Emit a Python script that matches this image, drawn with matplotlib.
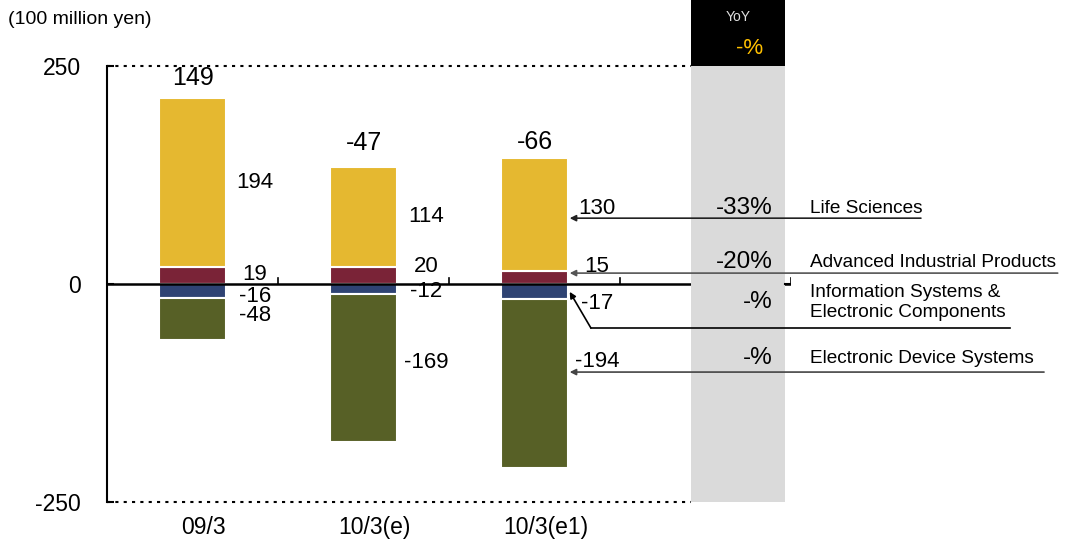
import matplotlib
matplotlib.use("Agg")
import matplotlib.pyplot as plt
from matplotlib.patches import Rectangle

plt.rcParams["font.family"] = ["Liberation Sans", "DejaVu Sans"]

# data (100 million yen)
periods = ["09/3", "10/3(e)", "10/3(e1)"]
segments = ["Life Sciences", "Advanced Industrial Products",
            "Information Systems &\nElectronic Components", "Electronic Device Systems"]
life_sciences = [194, 114, 130]
advanced_industrial = [19, 20, 15]
info_systems = [-16, -12, -17]
electronic_devices = [-48, -169, -194]
totals = [149, -47, -66]
yoy = ["-33%", "-20%", "-%", "-%"]
yoy_total = "-%"

c_ls = "#e5b830"
c_aip = "#7a2337"
c_isc = "#2f4373"
c_eds = "#576026"

fig = plt.figure(figsize=(10.67, 5.46), dpi=100)
ax = fig.add_axes([0.1003, 0.0806, 0.641, 0.7985])
ax.set_xlim(-0.5, 3.5)
ax.set_ylim(-250, 250)

x = range(len(periods))
w = 0.392
ax.bar(x, advanced_industrial, w, color=c_aip, edgecolor="white", linewidth=1.5, zorder=3)
ax.bar(x, life_sciences, w, bottom=advanced_industrial, color=c_ls, edgecolor="white", linewidth=1.5, zorder=3)
ax.bar(x, info_systems, w, color=c_isc, edgecolor="white", linewidth=1.5, zorder=3)
ax.bar(x, electronic_devices, w, bottom=info_systems, color=c_eds, edgecolor="white", linewidth=1.5, zorder=3)

# YoY column
gx0, gx1 = 2.915, 3.465
ax.add_patch(Rectangle((gx0, -250), gx1 - gx0, 500, color="#dadada", zorder=4, lw=0))
ax.add_patch(Rectangle((gx0, 250), gx1 - gx0, 80, color="black", zorder=4, lw=0, clip_on=False))
ax.text((gx0 + gx1) / 2, 306, "YoY", color="#e0e0e0", fontsize=10, ha="center", va="center", zorder=5)
ax.text((gx0 + gx1) / 2 + 0.07, 270, yoy_total, color="#ffc000", fontsize=16, ha="center", va="center", zorder=5)

# zero line and dotted frame
ax.axhline(0, color="black", lw=1.8, zorder=3)
for yv in (250, -250):
    ax.plot([-0.5, gx0], [yv, yv], color="black", lw=1.5, ls=(0, (1.5, 2.5)), zorder=2, clip_on=False)

for s in ("top", "right", "bottom"):
    ax.spines[s].set_visible(False)
ax.spines["left"].set_linewidth(1.5)
ax.set_yticks([-250, 0, 250])
ax.set_yticklabels(["-250", "0", "250"], fontsize=16.5)
ax.tick_params(axis="y", direction="in", length=5, width=1.5, pad=19)
ax.set_xticks([])
for b in (0.5, 1.5, 2.5, 3.5):
    ax.plot([b, b], [0, 7], color="black", lw=1.2, zorder=3)
ax.plot([gx1, 3.5], [0, 0], color="black", lw=1.5, zorder=5)

# category labels
for i, p in enumerate(periods):
    ax.text(i + 0.065, -279, p, fontsize=16.5, ha="center", va="center", clip_on=False)

# totals above bars
tot_gap = [10, 14, 4]
for i, t in enumerate(totals):
    top = life_sciences[i] + advanced_industrial[i]
    ax.text(i, top + tot_gap[i], str(t), fontsize=18, ha="center", va="bottom")

# segment labels
lx = w / 2 + 0.17
nudge = {(0, 1): 1, (1, 1): 10, (0, 2): -6, (1, 2): -3, (0, 3): 4, (1, 3): 6,
         (2, 0): 7, (2, 1): 13, (2, 2): -14, (2, 3): 25}
for i in x:
    mids = [advanced_industrial[i] + life_sciences[i] / 2,
            advanced_industrial[i] / 2,
            info_systems[i] / 2,
            info_systems[i] + electronic_devices[i] / 2]
    vals = [life_sciences[i], advanced_industrial[i], info_systems[i], electronic_devices[i]]
    for k, (m, v) in enumerate(zip(mids, vals)):
        ax.text(i + lx, m + nudge.get((i, k), 0), str(v), fontsize=16, ha="center", va="center", zorder=5)

# YoY values and segment names
row_y = [87, 25, -21, -85]
for k in range(4):
    ax.text(3.395, row_y[k], yoy[k], fontsize=17.5, ha="right", va="center", zorder=5)
    ax.text(3.611, row_y[k], segments[k], fontsize=13.7, ha="left", va="center", clip_on=False)

# arrows from names to the last bar
bx = 2 + w / 2
arrow = dict(arrowstyle="-|>", lw=1.2, mutation_scale=9, shrinkA=0, shrinkB=0)
ax.annotate("", xy=(bx + 0.01, 75.5), xytext=(4.26, 75.5),
            arrowprops=dict(arrow, color="#222222"), zorder=6, annotation_clip=False)
ax.annotate("", xy=(bx + 0.01, 12.5), xytext=(5.06, 12.5),
            arrowprops=dict(arrow, color="#555555"), zorder=6, annotation_clip=False)
ax.annotate("", xy=(bx + 0.01, -101), xytext=(4.98, -101),
            arrowprops=dict(arrow, color="#444444"), zorder=6, annotation_clip=False)
ax.plot([2.33, 4.78], [-50.5, -50.5], color="black", lw=1.2, zorder=6, clip_on=False)
ax.annotate("", xy=(bx + 0.01, -9), xytext=(2.33, -50.5),
            arrowprops=dict(arrow, color="black"), zorder=6, annotation_clip=False)

fig.text(8 / 1067, 1 - 20 / 546, "(100 million yen)", fontsize=14, ha="left", va="center")

fig.savefig("out.png", dpi=100)
